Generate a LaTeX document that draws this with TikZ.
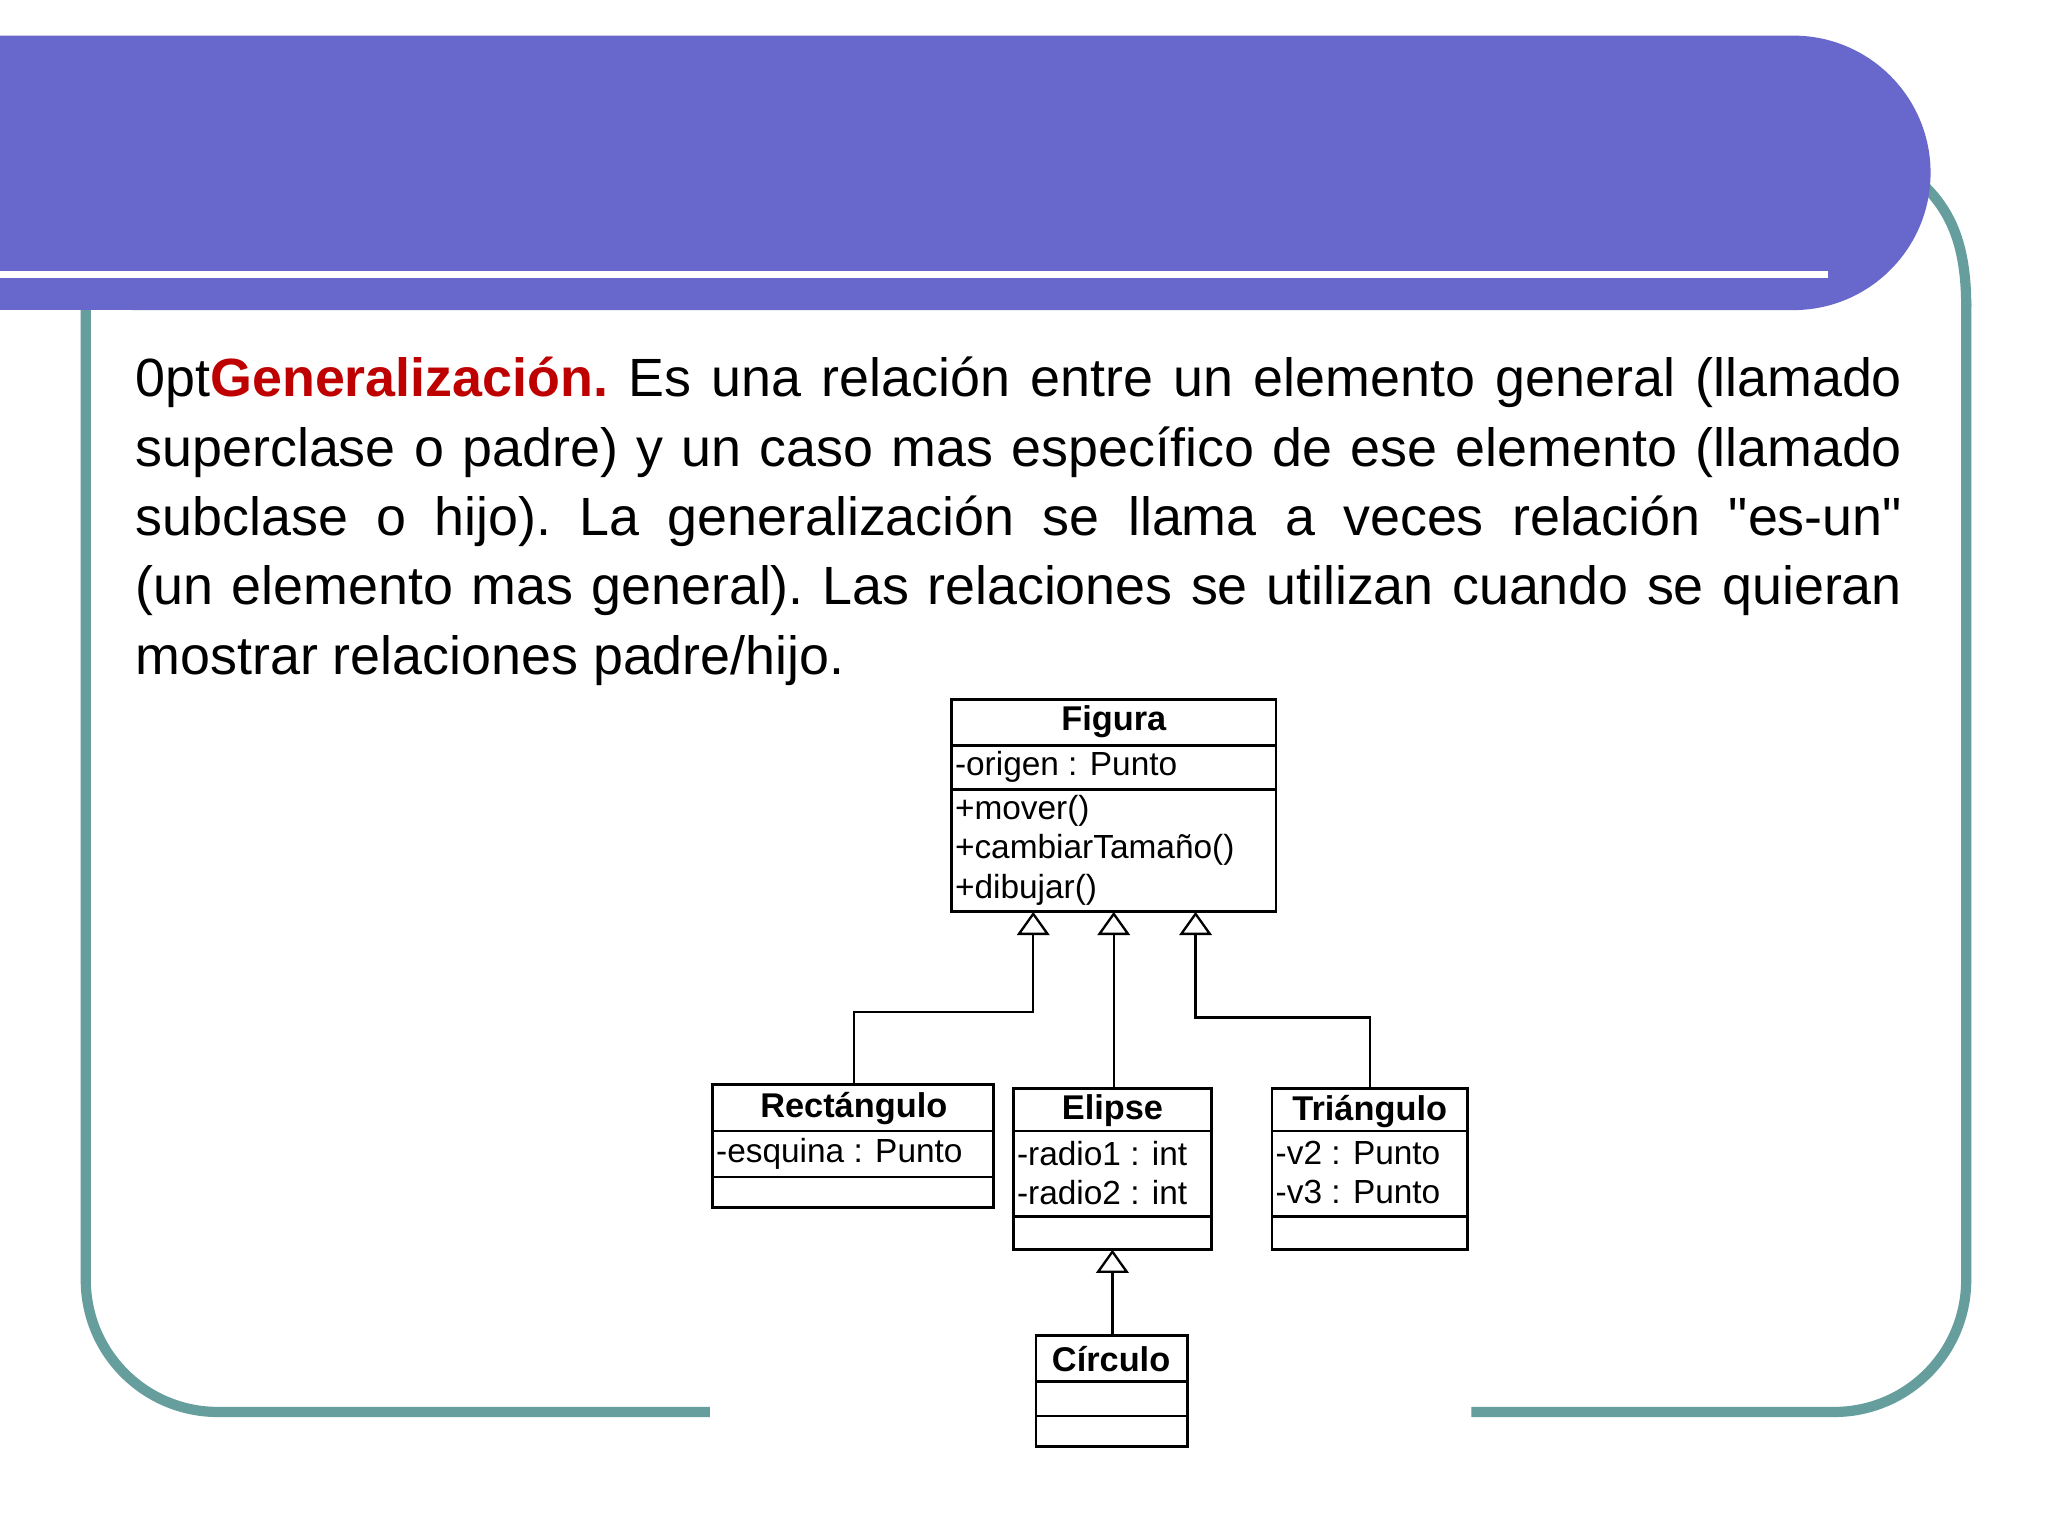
\documentclass[tikz,border=0pt]{standalone}
\usepackage{fontspec}
\setmainfont{Liberation Sans}
\usetikzlibrary{arrows.meta}
\definecolor{band}{RGB}{104,104,204}
\definecolor{teal1}{RGB}{102,158,158}
\definecolor{gred}{RGB}{190,0,0}
\lefthyphenmin=62
\righthyphenmin=62
\begin{document}
\begin{tikzpicture}[x=0.01cm,y=-0.01cm,
  umlbox/.style={draw,line width=0.6pt},
  umltxt/.style={font=\fontsize{7.2}{8.5}\selectfont,inner sep=0pt,anchor=north west,align=left},
  umlname/.style={font=\fontsize{7.4}{8.6}\selectfont\bfseries,inner sep=0pt},
  gen/.style={-{Triangle[open,length=5pt,width=7pt]},line width=0.5pt}]
\useasboundingbox (0,0) rectangle (1552,1164);
\fill[white] (0,0) rectangle (1552,1164);
% frame
\draw[teal1,line width=2.2pt,rounded corners=1cm] (65,200) -- (65,1070) -- (538,1070);
\draw[teal1,line width=2.2pt,rounded corners=1cm] (1115,1070) -- (1490,1070) -- (1490,230);
\draw[teal1,line width=2.2pt] (1490,232) .. controls (1490,180) and (1475,155) .. (1452,135);
% band
\fill[band,rounded corners=1.04cm] (0,27) -- (1463,27) -- (1463,235) -- (0,235) [sharp corners] -- cycle;
\fill[band] (0,27) rectangle (200,235);
\draw[white,line width=1.5pt] (0,208) -- (1385,208);
% paragraph
\node[anchor=north west,inner sep=0pt,text width=13.38cm,align=justify,
  font=\fontsize{11.6}{14.95}\selectfont\lefthyphenmin=62\righthyphenmin=62\hyphenpenalty=10000] (para) at (102,270)
 {\frenchspacing\textcolor{gred}{\textbf{Generalización.}} Es una relación entre un elemento general (llamado superclase o padre) y un caso mas específico de ese elemento (llamado subclase o hijo). La generalización se llama a veces relación \textquotedbl es-un\textquotedbl{} (un elemento mas general). Las relaciones se utilizan cuando se quieran mostrar relaciones padre/hijo.};
% Figura
\draw[umlbox] (721,530) rectangle (967,691);
\draw[umlbox] (721,565) -- (967,565) (721,598) -- (967,598);
\node[umlname] (fig) at (844,547) {Figura};
\node[umltxt] at (723,569) {-origen : Punto};
\node[umltxt] at (723,602) {+mover()\\+cambiarTamaño()\\+dibujar()};
\coordinate (f1) at (783,691); \coordinate (f2) at (844,691); \coordinate (f3) at (906,691);
% Rectangulo
\draw[umlbox] (540,822) rectangle (753,915);
\draw[umlbox] (540,857) -- (753,857) (540,892) -- (753,892);
\node[umlname] (rect) at (647,840) {Rectángulo};
\node[umltxt] at (542,862) {-esquina : Punto};
% Elipse
\draw[umlbox] (768,825) rectangle (918,947);
\draw[umlbox] (768,857) -- (918,857) (768,922) -- (918,922);
\node[umlname] (eli) at (843,842) {Elipse};
\node[umltxt] at (770,864) {-radio1 : int\\-radio2 : int};
% Triangulo
\draw[umlbox] (964,825) rectangle (1112,947);
\draw[umlbox] (964,857) -- (1112,857) (964,922) -- (1112,922);
\node[umlname] (tri) at (1038,842) {Triángulo};
\node[umltxt] at (966,864) {-v2 : Punto\\-v3 : Punto};
% Circulo
\draw[umlbox] (785,1012) rectangle (900,1096);
\draw[umlbox] (785,1047) -- (900,1047) (785,1073) -- (900,1073);
\node[umlname] (cir) at (842,1030) {Círculo};
% connectors
\coordinate (rtop) at (647,822); \coordinate (etop) at (844,825); \coordinate (ttop) at (1038,825);
\coordinate (ebot) at (843,947); \coordinate (ctop) at (843,1012);
\draw[gen] (rtop) |- (783,767) -- (f1);
\draw[gen] (etop) -- (f2);
\draw[gen] (ttop) |- (906,771) -- (f3);
\draw[gen] (ctop) -- (ebot);
\end{tikzpicture}
\end{document}
